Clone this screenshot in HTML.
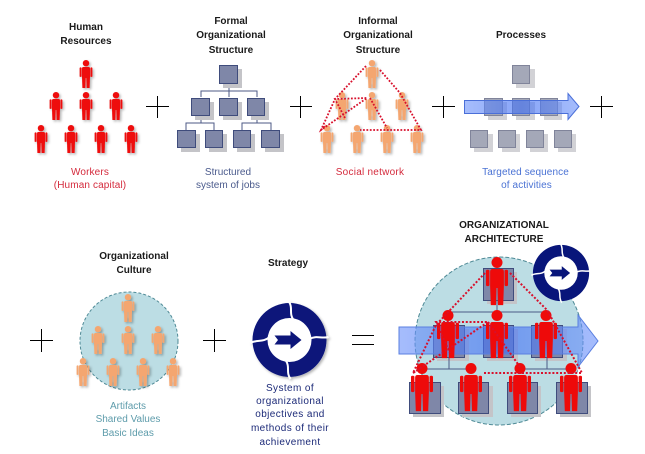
<!DOCTYPE html>
<html><head><meta charset="utf-8">
<style>
html,body{margin:0;padding:0;background:#fff}
svg{display:block}
text{font-family:"Liberation Sans",sans-serif;font-size:10px;text-anchor:middle}
.t{font-weight:bold;fill:#1a1a1a}
.d{letter-spacing:.4px}
.dots{fill:none;stroke:#d8102c;stroke-width:1.8;stroke-dasharray:1.8 1.6}
.big{fill:none;stroke:#d8102c;stroke-width:2;stroke-dasharray:2 1.8}
.pl{stroke:#000;stroke-width:1;fill:none}
.ln{stroke:#4c5a86;stroke-width:1;fill:none}
</style></head><body>
<svg xmlns="http://www.w3.org/2000/svg" width="645" height="454" viewBox="0 0 645 454">
<defs>
<filter id="sh" x="-40%" y="-20%" width="190%" height="150%"><feDropShadow dx="1.5" dy="1.5" stdDeviation="1.2" flood-color="#000" flood-opacity=".3"/></filter>
<linearGradient id="ag" x1="0" x2="1" y1="0" y2="0"><stop offset="0" stop-color="#6f94fa"/><stop offset=".5" stop-color="#3f6ef4"/><stop offset="1" stop-color="#6f94fa"/></linearGradient>
<g id="p"><circle cx="0" cy="3.2" r="3.2"/><path d="M-2.6 7H2.6Q4 7 4 8.500V17L3.6 28H.6L.3 18H-.3L-.6 28H-3.6L-4 17V8.500Q-4 7-2.6 7Z"/><rect x="-6.400" y="7.400" width="2" height="9.500" rx=".8"/><rect x="4.400" y="7.400" width="2" height="9.500" rx=".8"/></g>
<g id="ring">
<circle r="37" fill="#fff"/>
<path fill-rule="evenodd" fill="#08157a" d="M-37 0A37 37 0 1 0 37 0A37 37 0 1 0-37 0ZM-22 0A22 22 0 1 1 22 0A22 22 0 1 1-22 0Z"/>
<path d="M-1 -39C4 -32 -1 -27 4 -20M39 -3C32 -1 27 -5 20 -1M1 39C-4 32 1 27 -4 20M-39 3C-32 -1 -27 3 -20 -3" fill="none" stroke="#fff" stroke-width="2"/>
<path fill="#08157a" d="M-15 -4.500H1V-9L12 0L1 9V4.500H-15L-11.500 0Z"/>
</g>
</defs>

<!-- titles -->
<g class="t">
<text x="86" y="30">Human</text><text x="86" y="44">Resources</text>
<text x="231" y="24">Formal</text><text x="231" y="38">Organizational</text><text x="231" y="53">Structure</text>
<text x="378" y="24">Informal</text><text x="378" y="38">Organizational</text><text x="378" y="53">Structure</text>
<text x="521" y="38">Processes</text>
<text x="134" y="259">Organizational</text><text x="134" y="273">Culture</text>
<text x="288" y="266">Strategy</text>
<text x="504" y="228">ORGANIZATIONAL</text><text x="504" y="242">ARCHITECTURE</text>
</g>

<!-- human resources -->
<g fill="#ee0a0a" filter="url(#sh)">
<use href="#p" x="86" y="60"/><use href="#p" x="56" y="92"/><use href="#p" x="86" y="92"/><use href="#p" x="116" y="92"/>
<use href="#p" x="41" y="125"/><use href="#p" x="71" y="125"/><use href="#p" x="101" y="125"/><use href="#p" x="131" y="125"/>
</g>
<g fill="#d42a3c" style="letter-spacing:.13px"><text x="90" y="175">Workers</text><text x="90" y="188">(Human capital)</text></g>

<!-- formal -->
<path class="ln" d="M229 84V91M201 97V91H257V97M229 91V97M201 116V123H186V130M201 123H214V130M257 116V123H242V130M257 123H271V130"/>
<g fill="#c4c4c8">
<rect x="223" y="69" width="19" height="19"/><rect x="195" y="102" width="19" height="18"/><rect x="223" y="102" width="19" height="18"/><rect x="251" y="102" width="18" height="18"/>
<rect x="181" y="134" width="19" height="18"/><rect x="209" y="134" width="18" height="18"/><rect x="237" y="134" width="18" height="18"/><rect x="265" y="134" width="19" height="18"/>
</g>
<g fill="#7f87a8" stroke="#3f4c7c">
<rect x="219.500" y="65.500" width="18" height="18"/><rect x="191.500" y="98.500" width="18" height="17"/><rect x="219.500" y="98.500" width="18" height="17"/><rect x="247.500" y="98.500" width="17" height="17"/>
<rect x="177.500" y="130.500" width="18" height="17"/><rect x="205.500" y="130.500" width="17" height="17"/><rect x="233.500" y="130.500" width="17" height="17"/><rect x="261.500" y="130.500" width="18" height="17"/>
</g>
<g fill="#4a5a8c"><text x="228" y="175">Structured</text><text x="228" y="188">system of jobs</text></g>

<!-- informal -->
<g fill="#f4a670" filter="url(#sh)">
<use href="#p" x="372" y="60"/><use href="#p" x="342" y="92"/><use href="#p" x="372" y="92"/><use href="#p" x="402" y="92"/>
<use href="#p" x="327" y="125"/><use href="#p" x="357" y="125"/><use href="#p" x="387" y="125"/><use href="#p" x="417" y="125"/>
</g>
<path class="dots" d="M366 66L335 99L321 130L367 98L335 99L345 118M380 70L400 93L421 130H360M370 98L387 128M321 130L326 125"/>
<text x="370" y="175" fill="#d42a3c" style="letter-spacing:.25px">Social network</text>

<!-- processes -->
<g fill="#d2d2d6">
<rect x="516" y="69" width="19" height="19"/><rect x="488" y="102" width="19" height="18"/><rect x="516" y="102" width="19" height="18"/><rect x="544" y="102" width="18" height="18"/>
<rect x="474" y="134" width="19" height="18"/><rect x="502" y="134" width="18" height="18"/><rect x="530" y="134" width="18" height="18"/><rect x="558" y="134" width="18" height="18"/>
</g>
<g fill="#a4a8b8" stroke="#80849a">
<rect x="512.500" y="65.500" width="17" height="18"/><rect x="484.500" y="98.500" width="18" height="17"/><rect x="512.500" y="98.500" width="17" height="17"/><rect x="540.500" y="98.500" width="17" height="17"/>
<rect x="470.500" y="130.500" width="17" height="17"/><rect x="498.500" y="130.500" width="17" height="17"/><rect x="526.500" y="130.500" width="17" height="17"/><rect x="554.500" y="130.500" width="17" height="17"/>
</g>
<path d="M464.500 100.500H568V93.500L579 106.500L568 119.500V113.500H464.500Z" fill="url(#ag)" fill-opacity=".62" stroke="#4a6fd8"/>
<g fill="#4a72d4" style="letter-spacing:.1px"><text x="525.500" y="175">Targeted sequence</text><text x="526.500" y="188">of activities</text></g>

<!-- plus signs -->
<path class="pl" d="M146 106.500H169M157.500 96V118M290 106.500H312M300.500 96V118M432 106.500H455M443.500 96V118M590 106.500H613M601.500 96V118M30 340.500H53M41.500 329V352M203 340.500H226M214.500 329V352M352 335.500H374M352 344.500H374"/>

<!-- culture -->
<circle cx="129" cy="341" r="49" fill="#bcdde4" stroke="#4f8a96" stroke-dasharray="3 2"/>
<g fill="#f4a670" filter="url(#sh)">
<use href="#p" x="128" y="294"/><use href="#p" x="98" y="326"/><use href="#p" x="128" y="326"/><use href="#p" x="158" y="326"/>
<use href="#p" x="83" y="358"/><use href="#p" x="113" y="358"/><use href="#p" x="143" y="358"/><use href="#p" x="173" y="358"/>
</g>
<g fill="#5e9cab"><text x="128" y="409">Artifacts</text><text x="128" y="422">Shared Values</text><text x="128" y="436">Basic Ideas</text></g>

<!-- strategy -->
<use href="#ring" x="289.500" y="340" filter="url(#sh)"/>
<g class="d" fill="#1c2a78"><text x="290" y="391">System of</text><text x="290" y="404">organizational</text><text x="290" y="417">objectives and</text><text x="290" y="431">methods of their</text><text x="290" y="445">achievement</text></g>

<!-- architecture -->
<circle cx="499" cy="341" r="84" fill="#bcdde4" stroke="#4f8a96" stroke-dasharray="4 2"/>
<g fill="#c4c4c8">
<rect x="487" y="272" width="30" height="32"/><rect x="437" y="329" width="32" height="32"/><rect x="487" y="329" width="31" height="32"/><rect x="535" y="329" width="32" height="32"/>
<rect x="413" y="386" width="31" height="31"/><rect x="462" y="386" width="31" height="31"/><rect x="511" y="386" width="30" height="31"/><rect x="560" y="386" width="31" height="31"/>
</g>
<g fill="#7f87a8" stroke="#3f4c7c">
<rect x="483.500" y="268.500" width="30" height="32"/><rect x="433.500" y="325.500" width="31" height="32"/><rect x="483.500" y="325.500" width="30" height="32"/><rect x="531.500" y="325.500" width="31" height="32"/>
<rect x="409.500" y="382.500" width="31" height="31"/><rect x="458.500" y="382.500" width="30" height="31"/><rect x="507.500" y="382.500" width="30" height="31"/><rect x="556.500" y="382.500" width="31" height="31"/>
</g>
<path d="M399 327H578V315L598 341L578 367V354H399Z" fill="url(#ag)" fill-opacity=".62" stroke="#5a7fe0"/>
<path class="ln" stroke-width="1.200" d="M497 300V312M448 312H546M449 357V369H422M449 369H471M547 357V369H520M547 369H571"/>
<g fill="#ee0a0a">
<use href="#p" transform="translate(497 257) scale(1.72)"/>
<use href="#p" transform="translate(448 310) scale(1.72)"/><use href="#p" transform="translate(497 310) scale(1.72)"/><use href="#p" transform="translate(546 310) scale(1.72)"/>
<use href="#p" transform="translate(422 363) scale(1.72)"/><use href="#p" transform="translate(471 363) scale(1.72)"/><use href="#p" transform="translate(520 363) scale(1.72)"/><use href="#p" transform="translate(571 363) scale(1.72)"/>
</g>
<path class="big" d="M485 273L436 325L413 373L488 322L436 322L450 353M510 273L547 310L582 373H483M488 322L520 367M413 373L422 367"/>
<g transform="translate(561 273) scale(.76)"><use href="#ring"/></g>
</svg>
</body></html>
